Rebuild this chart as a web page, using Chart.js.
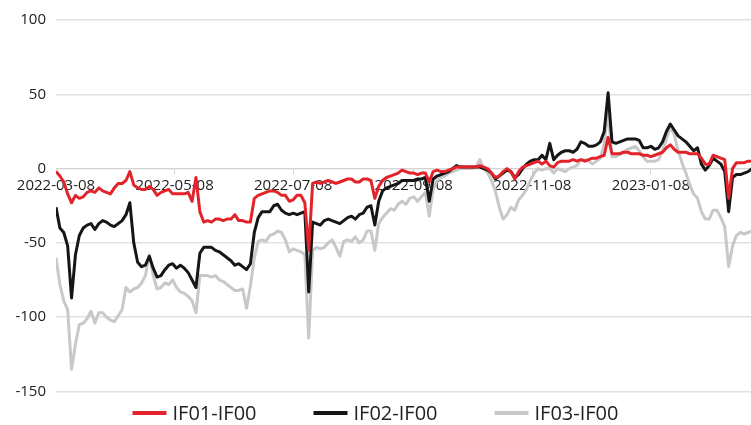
<!DOCTYPE html>
<html>
<head>
<meta charset="utf-8">
<script src="https://cdn.jsdelivr.net/npm/chart.js@4.4.1/dist/chart.umd.min.js"></script>
<style>
  html, body { margin: 0; padding: 0; background: #ffffff; }
  #wrap { position: relative; width: 751px; height: 425px; }
</style>
</head>
<body>
<div id="wrap"><canvas id="spread" width="751" height="425"></canvas></div>
<script>
// Sample dates (every other calendar day)
const dates = [
  '2022-03-08','2022-03-10','2022-03-12','2022-03-14','2022-03-16','2022-03-18','2022-03-20','2022-03-22','2022-03-24','2022-03-26','2022-03-28','2022-03-30',
  '2022-04-01','2022-04-03','2022-04-05','2022-04-07','2022-04-09','2022-04-11','2022-04-13','2022-04-15','2022-04-17','2022-04-19','2022-04-21','2022-04-23','2022-04-25','2022-04-27','2022-04-29',
  '2022-05-01','2022-05-03','2022-05-05','2022-05-07','2022-05-09','2022-05-11','2022-05-13','2022-05-15','2022-05-17','2022-05-19','2022-05-21','2022-05-23','2022-05-25','2022-05-27','2022-05-29','2022-05-31',
  '2022-06-02','2022-06-04','2022-06-06','2022-06-08','2022-06-10','2022-06-12','2022-06-14','2022-06-16','2022-06-18','2022-06-20','2022-06-22','2022-06-24','2022-06-26','2022-06-28','2022-06-30',
  '2022-07-02','2022-07-04','2022-07-06','2022-07-08','2022-07-10','2022-07-12','2022-07-14','2022-07-16','2022-07-18','2022-07-20','2022-07-22','2022-07-24','2022-07-26','2022-07-28','2022-07-30',
  '2022-08-01','2022-08-03','2022-08-05','2022-08-07','2022-08-09','2022-08-11','2022-08-13','2022-08-15','2022-08-17','2022-08-19','2022-08-21','2022-08-23','2022-08-25','2022-08-27','2022-08-29','2022-08-31',
  '2022-09-02','2022-09-04','2022-09-06','2022-09-08','2022-09-10','2022-09-12','2022-09-14','2022-09-16','2022-09-18','2022-09-20','2022-09-22','2022-09-24','2022-09-26','2022-09-28','2022-09-30',
  '2022-10-02','2022-10-04','2022-10-06','2022-10-08','2022-10-10','2022-10-12','2022-10-14','2022-10-16','2022-10-18','2022-10-20','2022-10-22','2022-10-24','2022-10-26','2022-10-28','2022-10-30',
  '2022-11-01','2022-11-03','2022-11-05','2022-11-07','2022-11-09','2022-11-11','2022-11-13','2022-11-15','2022-11-17','2022-11-19','2022-11-21','2022-11-23','2022-11-25','2022-11-27','2022-11-29',
  '2022-12-01','2022-12-03','2022-12-05','2022-12-07','2022-12-09','2022-12-11','2022-12-13','2022-12-15','2022-12-17','2022-12-19','2022-12-21','2022-12-23','2022-12-25','2022-12-27','2022-12-29','2022-12-31',
  '2023-01-02','2023-01-04','2023-01-06','2023-01-08','2023-01-10','2023-01-12','2023-01-14','2023-01-16','2023-01-18','2023-01-20','2023-01-22','2023-01-24','2023-01-26','2023-01-28','2023-01-30',
  '2023-02-01','2023-02-03','2023-02-05','2023-02-07','2023-02-09','2023-02-11','2023-02-13','2023-02-15','2023-02-17','2023-02-19','2023-02-21','2023-02-23','2023-02-25','2023-02-27',
  '2023-03-01'
];

// IF01 - IF00 basis spread
const if01 = [
  -2,-5,-9,-17,-23,-18,-20,-19,-16,-15,
  -16,-13,-15,-16,-17,-13,-10,-10,-8,-2,
  -11,-13,-14,-14,-12,-14,-18,-16,-15,-14,
  -17,-17,-17,-17,-16,-22,-6,-29,-36,-35,
  -36,-34,-34,-35,-34,-34,-31,-35,-35,-36,
  -36,-20,-18,-17,-16,-15,-15,-16,-18,-18,
  -22,-21,-18,-18,-23,-55,-10,-9,-10,-9,
  -8,-9,-10,-9,-8,-7,-7,-9,-9,-7,
  -7,-8,-20,-12,-8,-6,-5,-4,-3,-1,
  -2,-3,-3,-4,-3,-3,-9,-2,-1,-2,
  -2,-1,0,1,1,1,1,1,1,2,
  1,0,-3,-6,-5,-2,0,-2,-7,-2,
  1,2,3,4,5,3,5,2,1,4,
  5,5,5,6,5,6,5,6,7,7,
  8,9,21,10,10,10,11,11,10,10,
  10,9,9,8,9,10,11,14,16,13,
  11,11,11,10,10,10,7,3,3,9,
  8,7,6,-20,0,4,4,4,5,5
];

// IF02 - IF00 basis spread
const if02 = [
  -26,-40,-43,-52,-87,-58,-45,-40,-38,-37,
  -41,-37,-35,-36,-38,-39,-37,-35,-31,-23,
  -50,-63,-66,-65,-59,-67,-73,-72,-68,-65,
  -64,-67,-65,-67,-70,-75,-80,-57,-53,-53,
  -53,-55,-56,-58,-60,-62,-65,-64,-66,-68,
  -64,-43,-33,-29,-29,-29,-25,-24,-28,-30,
  -31,-30,-31,-30,-29,-83,-36,-37,-38,-35,
  -34,-35,-36,-37,-35,-33,-32,-34,-31,-30,
  -26,-25,-38,-22,-15,-13,-12,-11,-10,-8,
  -8,-8,-8,-7,-7,-6,-22,-7,-5,-4,
  -3,-2,0,2,1,1,1,1,1,1,
  0,-1,-3,-7,-5,-3,-1,-2,-6,-4,
  0,3,5,6,6,9,6,17,6,9,
  11,12,12,11,13,18,17,15,15,16,
  18,25,51,18,17,18,19,20,20,20,
  19,14,14,15,13,14,18,25,30,26,
  22,20,18,15,12,14,3,-1,2,7,
  5,3,-2,-29,-6,-4,-4,-3,-2,0
];

// IF03 - IF00 basis spread
const if03 = [
  -60,-78,-89,-95,-135,-118,-105,-104,-101,-96,
  -104,-97,-97,-100,-102,-103,-99,-95,-80,-83,
  -81,-80,-77,-72,-58,-72,-81,-80,-77,-78,
  -75,-80,-83,-84,-86,-89,-97,-72,-72,-72,
  -73,-72,-75,-76,-78,-80,-82,-82,-81,-94,
  -79,-60,-49,-48,-49,-45,-44,-42,-43,-48,
  -56,-54,-55,-56,-58,-114,-55,-53,-54,-53,
  -50,-48,-53,-59,-49,-48,-49,-46,-50,-48,
  -42,-42,-55,-37,-33,-30,-27,-28,-24,-22,
  -24,-20,-19,-22,-19,-16,-32,-14,-8,-6,
  -5,-3,-2,-1,0,0,0,0,1,6,
  0,-3,-8,-15,-26,-34,-31,-26,-28,-21,
  -18,-14,-8,-3,0,-1,0,0,-3,0,
  -1,-2,0,1,2,6,6,5,3,5,
  7,17,39,8,8,10,11,13,14,15,
  12,8,5,5,5,6,12,20,28,23,
  12,4,-3,-11,-17,-20,-29,-34,-34,-28,
  -28,-33,-39,-66,-52,-45,-43,-44,-43,-42
];

const tickDates = ['2022-03-08','2022-05-08','2022-07-08','2022-09-08','2022-11-08','2023-01-08'];
const yTicks = [-150, -100, -50, 0, 50, 100];
const seriesNames = ['IF01-IF00', 'IF02-IF00', 'IF03-IF00'];
const seriesColors = ['#e3232a', '#161616', '#c8c8c8'];

const DAY_MS = 86400000;
const t0 = Date.parse(dates[0]);
const dayOf = d => Math.round((Date.parse(d) - t0) / DAY_MS);
const xs = dates.map(dayOf);
const toPoints = vals => vals.map((v, i) => ({ x: xs[i], y: v }));

const FONT = '"Open Sans", "Noto Sans", sans-serif';
const TEXT = '#222222';

// Legend row drawn beneath the plot
const bottomKey = {
  id: 'bottomKey',
  afterDraw(chart, _args, o) {
    const ctx = chart.ctx;
    ctx.save();
    ctx.font = o.fontSize + 'px ' + o.fontFamily;
    const items = chart.data.datasets.map(ds => ({
      text: ds.label, color: ds.borderColor, w: ctx.measureText(ds.label).width
    }));
    const itemW = it => o.swatch + o.gap + it.w;
    const total = items.reduce((s, it) => s + itemW(it), 0) + o.spacing * (items.length - 1);
    let x = (chart.width - total) / 2 + o.shift;
    ctx.textBaseline = 'middle';
    ctx.textAlign = 'left';
    items.forEach(it => {
      ctx.strokeStyle = it.color;
      ctx.lineWidth = o.lineWidth;
      ctx.lineCap = 'butt';
      ctx.beginPath();
      ctx.moveTo(x, o.y);
      ctx.lineTo(x + o.swatch, o.y);
      ctx.stroke();
      ctx.fillStyle = o.color;
      ctx.fillText(it.text, x + o.swatch + o.gap, o.y + 1);
      x += itemW(it) + o.spacing;
    });
    ctx.restore();
  }
};

const series = [if01, if02, if03];

new Chart(document.getElementById('spread'), {
  type: 'line',
  data: {
    datasets: series.map((vals, k) => ({
      label: seriesNames[k],
      data: toPoints(vals),
      borderColor: seriesColors[k],
      backgroundColor: seriesColors[k],
      borderWidth: 3,
      pointRadius: 0,
      pointHoverRadius: 0,
      tension: 0,
      borderJoinStyle: 'round',
      fill: false
    }))
  },
  options: {
    responsive: false,
    devicePixelRatio: 1,
    animation: false,
    events: [],
    layout: { padding: { top: 20, right: 0, bottom: 33.5, left: 0 } },
    plugins: {
      legend: { display: false },
      tooltip: { enabled: false },
      bottomKey: {
        y: 413, swatch: 34, gap: 6, spacing: 57, lineWidth: 4, shift: 0,
        fontSize: 20, fontFamily: FONT, color: TEXT
      }
    },
    scales: {
      x: {
        type: 'linear',
        position: { y: 0 },
        bounds: 'data',
        min: 0,
        max: 357.5,
        afterBuildTicks: s => { s.ticks = tickDates.map(d => ({ value: dayOf(d) })); },
        ticks: {
          autoSkip: false,
          maxRotation: 0,
          padding: 3,
          color: TEXT,
          font: { family: FONT, size: 15 },
          callback: v => { const d = tickDates.find(t => dayOf(t) === v); return d || ''; }
        },
        grid: { drawOnChartArea: false, drawTicks: true, tickLength: 5, color: '#d4d4d4', lineWidth: 1 },
        border: { display: true, color: '#d4d4d4', width: 1 }
      },
      y: {
        min: -150,
        max: 100,
        afterBuildTicks: s => { s.ticks = yTicks.map(v => ({ value: v })); },
        afterFit: s => { s.width = 56; },
        ticks: { padding: 10, color: TEXT, font: { family: FONT, size: 15 } },
        grid: { color: '#e2e2e2', lineWidth: 1.5, drawTicks: false },
        border: { display: false }
      }
    }
  },
  plugins: [bottomKey]
});
</script>
</body>
</html>
